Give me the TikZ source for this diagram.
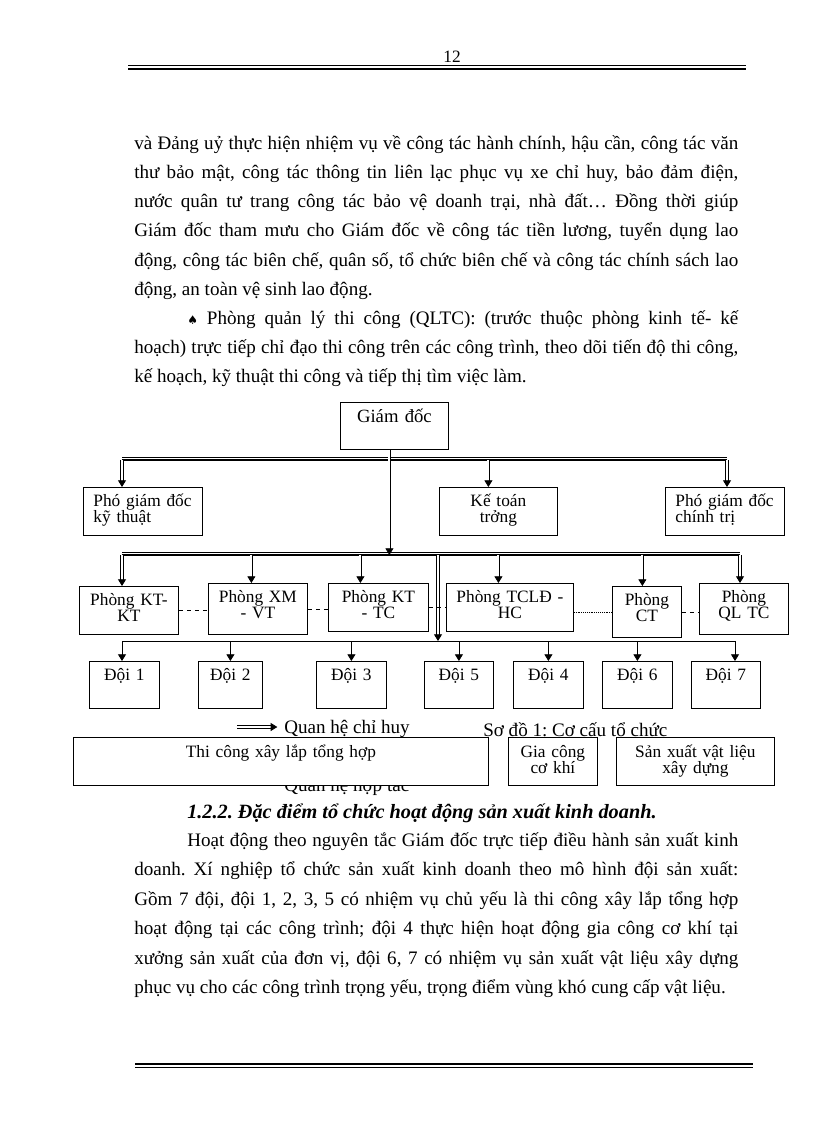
\documentclass[tikz,border=0pt]{standalone}
\usepackage{fontspec}
\setmainfont{Liberation Serif}
\newfontfamily\symfont{DejaVu Sans}
\usetikzlibrary{arrows.meta, positioning}
\setlength{\lineskiplimit}{-20pt}
\frenchspacing

\begin{document}
\begin{tikzpicture}[x=0.75pt, y=-0.75pt,
    txt/.style={anchor=base west, inner sep=0pt, font=\fontsize{14.3pt}{14pt}\selectfont},
    box/.style 2 args={draw, line width=0.6pt, fill=white, anchor=north west, inner sep=0pt,
      text width=#1, text height=14.25pt, text depth=#2, align=center,
      font=\fontsize{13pt}{12pt}\selectfont},
    dbl/.style={double, double distance=1.5pt, line width=0.6pt, -{Triangle[length=5pt, width=6pt]}},
    sgl/.style={line width=0.6pt, -{Triangle[length=5pt, width=6pt]}},
    bar/.style={line width=1.7pt, preaction={draw, line width=0.5pt, transform canvas={yshift=1.8pt}}},
    link/.style={line width=0.5pt, dash pattern=on 3pt off 3pt}]
    \useasboundingbox (0,0) rectangle (816,1123);

    % header and footer
    \node[anchor=base, inner sep=0pt, font=\fontsize{13pt}{13pt}\selectfont] (pg) at (452,63) {12};
    \draw[line width=0.6pt] (128,65.2) -- (746,65.2);
    \draw[line width=1.7pt] (128,68.7) -- (746,68.7);
    \draw[line width=1.7pt] (135,1064) -- (753,1064);
    \draw[line width=0.6pt] (135,1067.5) -- (753,1067.5);

    % text above the chart
    \node[txt] (l1) at (134,150) {\makebox[453pt][s]{và Đảng uỷ thực hiện nhiệm vụ về công tác hành chính, hậu cần, công tác văn}};
    \node[txt] (l2) at (134,179) {\makebox[453pt][s]{thư bảo mật, công tác thông tin liên lạc phục vụ xe chỉ huy, bảo đảm điện,}};
    \node[txt] (l3) at (134,208) {\makebox[453pt][s]{nước quân tư trang công tác bảo vệ doanh trại, nhà đất… Đồng thời giúp}};
    \node[txt] (l4) at (134,237) {\makebox[453pt][s]{Giám đốc tham mưu cho Giám đốc về công tác tiền lương, tuyển dụng lao}};
    \node[txt] (l5) at (134,266) {\makebox[453pt][s]{động, công tác biên chế, quân số, tổ chức biên chế và công tác chính sách lao}};
    \node[txt] (l6) at (134,295) {động, an toàn vệ sinh lao động.};
    \node[txt] (l7) at (187,324) {\makebox[413.25pt][s]{{\symfont\fontsize{9pt}{9pt}\selectfont ♠} Phòng quản lý thi công (QLTC): (trước thuộc phòng kinh tế- kế}};
    \node[txt] (l8) at (134,353) {\makebox[453pt][s]{hoạch) trực tiếp chỉ đạo thi công trên các công trình, theo dõi tiến độ thi công,}};
    \node[txt] (l9) at (134,382) {kế hoạch, kỹ thuật thi công và tiếp thị tìm việc làm.};

    % chart
    \node[box={81pt}{20.25pt}, text height=15pt, font=\fontsize{14pt}{14pt}\selectfont] (gd) at (340,402) {Giám đốc};
    \node[box={74.25pt}{21.75pt}, inner xsep=7.5pt, align=left] (pgdkt) at (83,487) {Phó giám đốc\\kỹ thuật};
    \node[box={88.5pt}{21.75pt}] (ktt) at (439,487) {Kế toán\\trởng};
    \node[box={74.25pt}{21.75pt}, inner xsep=7.5pt, align=left] (pgdct) at (665,487) {Phó giám đốc\\chính trị};

    \node[box={74.25pt}{21.75pt}] (pkt) at (79,586) {Phòng KT-\\KT};
    \node[box={74.25pt}{24pt}] (pxm) at (208,583) {Phòng XM\\- VT};
    \node[box={75pt}{21.75pt}] (pktc) at (328,583) {Phòng KT\\- TC};
    \node[box={95.25pt}{21.75pt}] (ptc) at (446,583) {Phòng TCLĐ -\\HC};
    \node[box={51.75pt}{24pt}] (pct) at (612,586) {Phòng\\CT};
    \node[box={66.75pt}{24pt}] (pql) at (699,583) {Phòng\\QL TC};

    \node[box={52.5pt}{21pt}] (d1) at (89,661) {Đội 1};
    \node[box={48pt}{21pt}] (d2) at (198,661) {Đội 2};
    \node[box={52.5pt}{21pt}] (d3) at (316,661) {Đội 3};
    \node[box={51.75pt}{21pt}] (d5) at (424,661) {Đội 5};
    \node[box={52.5pt}{21pt}] (d4) at (513,661) {Đội 4};
    \node[box={52.5pt}{21pt}] (d6) at (602,661) {Đội 6};
    \node[box={51.75pt}{21pt}] (d7) at (691,661) {Đội 7};

    \coordinate (b1w) at (122,460);
    \coordinate (b1e) at (727,460);
    \coordinate (b2w) at (122,555);
    \coordinate (b2e) at (740,555);
    \coordinate (b3w) at (122,641);
    \coordinate (b3e) at (735,641);
    \coordinate (hub) at (438,555);

    \draw[bar] (b1w) -- (b1e);
    \draw[bar] (b2w) -- (b2e);
    \draw[line width=0.6pt] (b3w) -- (b3e);

    \draw[dbl] ([xshift=-3.75pt]gd.south) -- ([xshift=-3.75pt]gd.south |- b2w);
    \draw[dbl] (b1w) -- (b1w |- pgdkt.north);
    \draw[dbl] ([xshift=-7.5pt]ktt.north |- b1w) -- ([xshift=-7.5pt]ktt.north);
    \draw[dbl] (b1e) -- (b1e |- pgdct.north);

    \draw[dbl] (b2w) -- (b2w |- pkt.north);
    \draw[dbl] ([xshift=-4.9pt]pxm.north |- b2w) -- ([xshift=-4.9pt]pxm.north);
    \draw[dbl] ([xshift=-13.5pt]pktc.north |- b2w) -- ([xshift=-13.5pt]pktc.north);
    \draw[dbl] ([xshift=-8.6pt]ptc.north |- b2w) -- ([xshift=-8.6pt]ptc.north);
    \draw[dbl] ([xshift=-3.4pt]pct.north |- b2w) -- ([xshift=-3.4pt]pct.north);
    \draw[dbl] (b2e) -- (b2e |- pql.north);
    \draw[dbl] (hub) -- (hub |- b3w);

    \draw[sgl] (b3w) -- (b3w |- d1.north);
    \draw[sgl] (b3w -| d2.north) -- (d2.north);
    \draw[sgl] (b3w -| d3.north) -- (d3.north);
    \draw[sgl] (b3w -| d5.north) -- (d5.north);
    \draw[sgl] (b3w -| d4.north) -- (d4.north);
    \draw[sgl] (b3w -| d6.north) -- (d6.north);
    \draw[sgl] (b3e) -- (b3e |- d7.north);

    \draw[link] (pkt.east) -- (pkt.east -| pxm.west);
    \draw[link] (pxm.east) -- (pxm.east -| pktc.west);
    \draw[link] (pktc.east) -- (pktc.east -| ptc.west);
    \draw[line width=0.4pt, densely dotted] (pct.west -| ptc.east) -- (pct.west);
    \draw[link] (pct.east) -- (pct.east -| pql.west);

    % legend and caption
    \coordinate (lgs) at (237,727);
    \node[txt] (lgc) at (284,733) {Quan hệ chỉ huy};
    \draw[dbl] (lgs) -- ([xshift=-5pt]lgs -| lgc.west);
    \node[txt] (lgh) at (284,791) {Quan hệ hợp tác};
    \node[txt] (cap) at (483,736) {Sơ đồ 1: Cơ cấu tổ chức};

    \node[box={311.25pt}{21pt}, text height=15pt] (tc) at (73,737) {Thi công xây lắp tổng hợp};
    \node[box={66.75pt}{21pt}, text height=15pt] (gc) at (508,737) {Gia công\\cơ khí};
    \node[box={118.5pt}{21pt}, text height=15pt] (sx) at (616,737) {Sản xuất vật liệu\\xây dựng};

    % text below the chart
    \node[txt, font=\fontsize{15.2pt}{15pt}\selectfont\bfseries\itshape] (hd) at (187,818) {1.2.2. Đặc điểm tổ chức hoạt động sản xuất kinh doanh.};
    \node[txt] (p1) at (187,846) {\makebox[413.25pt][s]{Hoạt động theo nguyên tắc Giám đốc trực tiếp điều hành sản xuất kinh}};
    \node[txt] (p2) at (134,875) {\makebox[453pt][s]{doanh. Xí nghiệp tổ chức sản xuất kinh doanh theo mô hình đội sản xuất:}};
    \node[txt] (p3) at (134,905) {\makebox[453pt][s]{Gồm 7 đội, đội 1, 2, 3, 5 có nhiệm vụ chủ yếu là thi công xây lắp tổng hợp}};
    \node[txt] (p4) at (134,934) {\makebox[453pt][s]{hoạt động tại các công trình; đội 4 thực hiện hoạt động gia công cơ khí tại}};
    \node[txt] (p5) at (134,964) {\makebox[453pt][s]{xưởng sản xuất của đơn vị, đội 6, 7 có nhiệm vụ sản xuất vật liệu xây dựng}};
    \node[txt] (p6) at (134,993) {phục vụ cho các công trình trọng yếu, trọng điểm vùng khó cung cấp vật liệu.};
\end{tikzpicture}
\end{document}
